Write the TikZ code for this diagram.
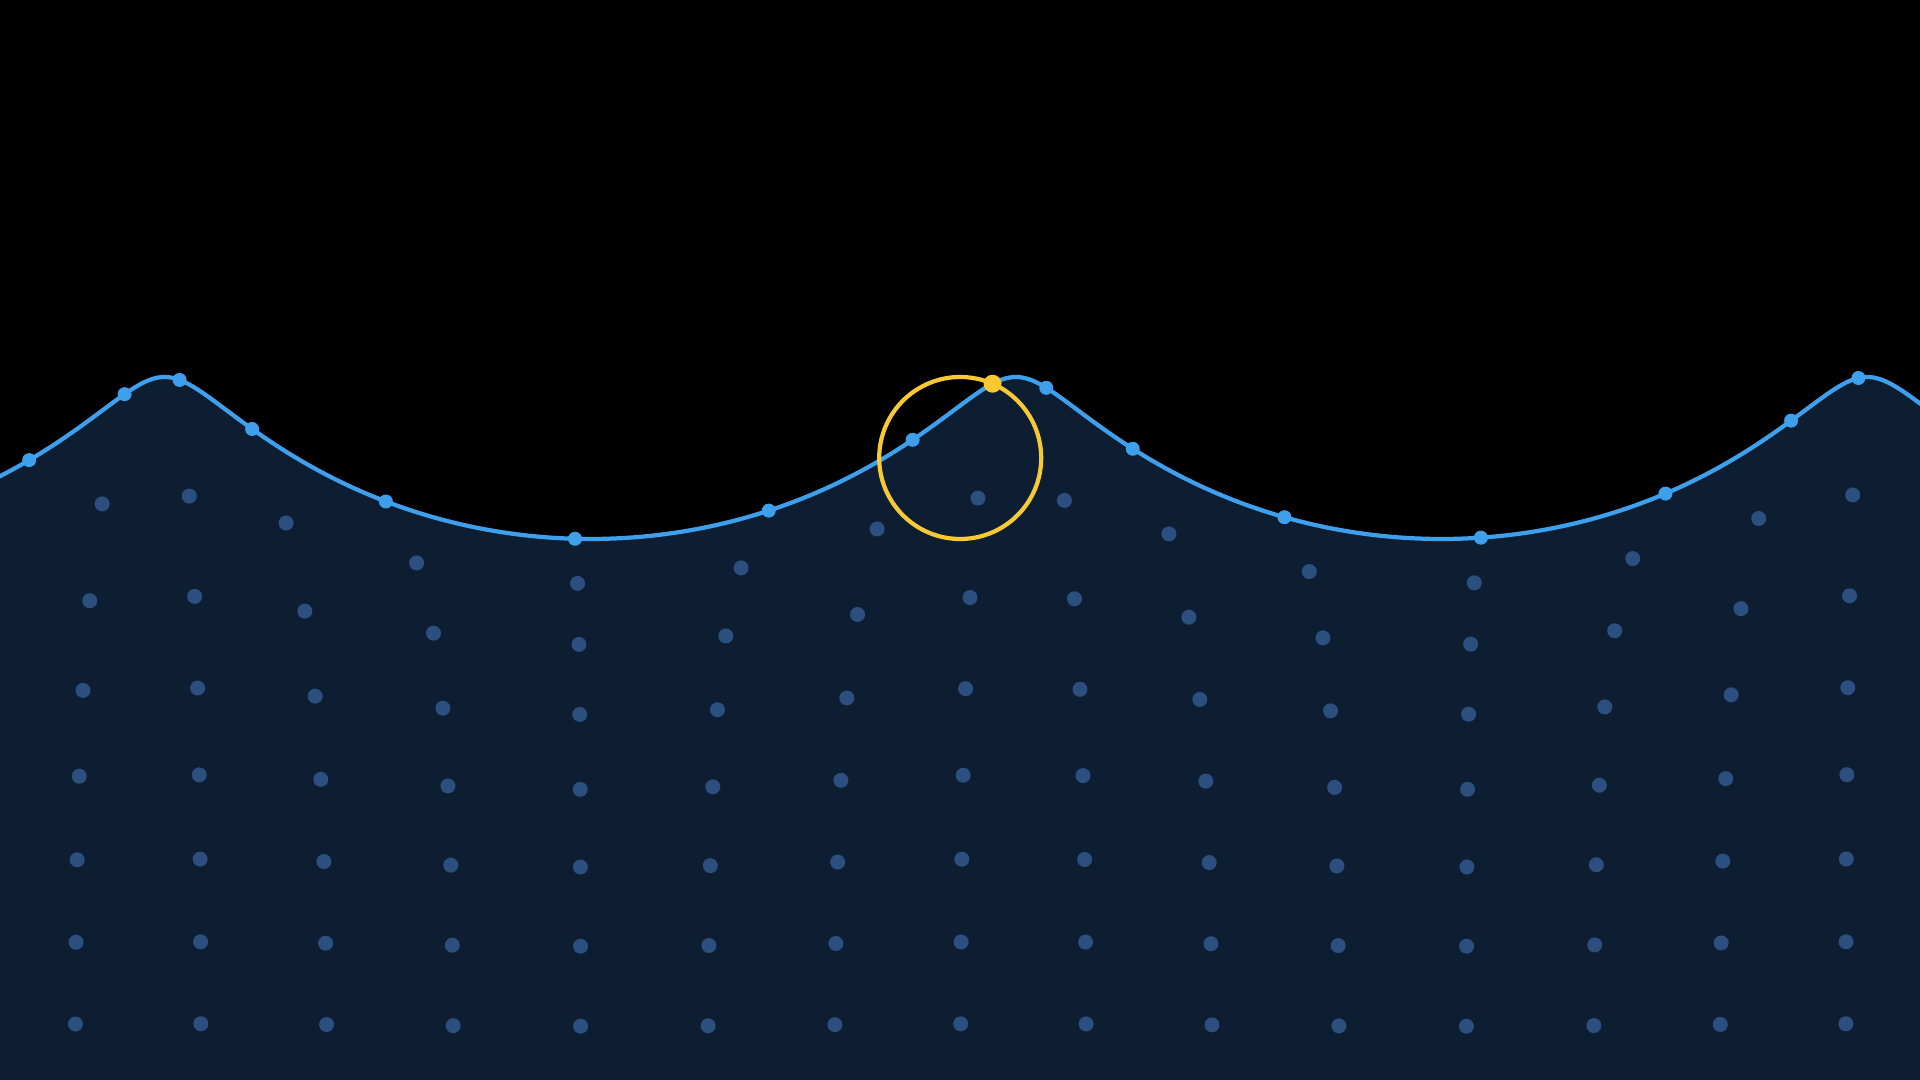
\documentclass[tikz,border=0pt]{standalone}
\usetikzlibrary{calc}

\begin{document}
\begin{tikzpicture}[x=0.01cm, y=-0.01cm]
    % Define wave parameters (pixel units, y pointing down)
    \def\amp{81}
    \def\waveK{0.4229}
    \def\phase{69.6}
    \def\meanLevel{458}
    \def\colStep{126.5}
    \def\colStart{74.7}

    \definecolor{skyColour}{HTML}{000000}
    \definecolor{waterColour}{HTML}{0D1E33}
    \definecolor{surfaceColour}{HTML}{3E9FEC}
    \definecolor{particleColour}{HTML}{2C4F80}
    \definecolor{orbitColour}{HTML}{F8C933}

    % Fix the frame
    \useasboundingbox (0,0) rectangle (1920,1080);
    \clip (0,0) rectangle (1920,1080);
    \fill[skyColour] (0,0) rectangle (1920,1080);

    % Fill the water below the surface
    \fill[waterColour] plot[domain=-150:2050, samples=400, variable=\t]
        ({\t - \amp*sin(\waveK*\t-\phase)}, {\meanLevel - \amp*cos(\waveK*\t-\phase)})
        -- (1971,1100) -- (-91,1100) -- cycle;

    % Draw particles below the surface
    \foreach \row in {1,...,7} {
        \pgfmathsetmacro{\rowAmp}{\amp*exp(-0.598*\row)}
        \pgfmathsetmacro{\rowLevel}{\meanLevel+81*\row}
        \foreach \col in {0,...,14} {
            \pgfmathsetmacro{\xzero}{\colStart+\colStep*\col}
            \fill[particleColour] ({\xzero - \rowAmp*sin(\waveK*\xzero-\phase)}, {\rowLevel - \rowAmp*cos(\waveK*\xzero-\phase)}) circle[radius=7.5];
        }
    }

    % Draw the surface line
    \draw[surfaceColour, line width=1.2pt, line join=round] plot[domain=-150:2050, samples=400, variable=\t]
        ({\t - \amp*sin(\waveK*\t-\phase)}, {\meanLevel - \amp*cos(\waveK*\t-\phase)});

    % Draw particles on the surface
    \foreach \col in {-1,...,14} {
        \pgfmathsetmacro{\xzero}{\colStart+\colStep*\col}
        \fill[surfaceColour] ({\xzero - \amp*sin(\waveK*\xzero-\phase)}, {\meanLevel - \amp*cos(\waveK*\xzero-\phase)}) circle[radius=7];
    }

    % Define the orbit centre and the marked particle
    \pgfmathsetmacro{\xmark}{\colStart+\colStep*7}
    \coordinate (orbitCentre) at (\xmark,\meanLevel);
    \coordinate (markedParticle) at ({\xmark - \amp*sin(\waveK*\xmark-\phase)}, {\meanLevel - \amp*cos(\waveK*\xmark-\phase)});

    % Draw the orbit of the marked particle
    \draw[orbitColour, line width=1.2pt] (orbitCentre) circle[radius=\amp];
    \fill[orbitColour] (markedParticle) circle[radius=9];

\end{tikzpicture}
\end{document}
